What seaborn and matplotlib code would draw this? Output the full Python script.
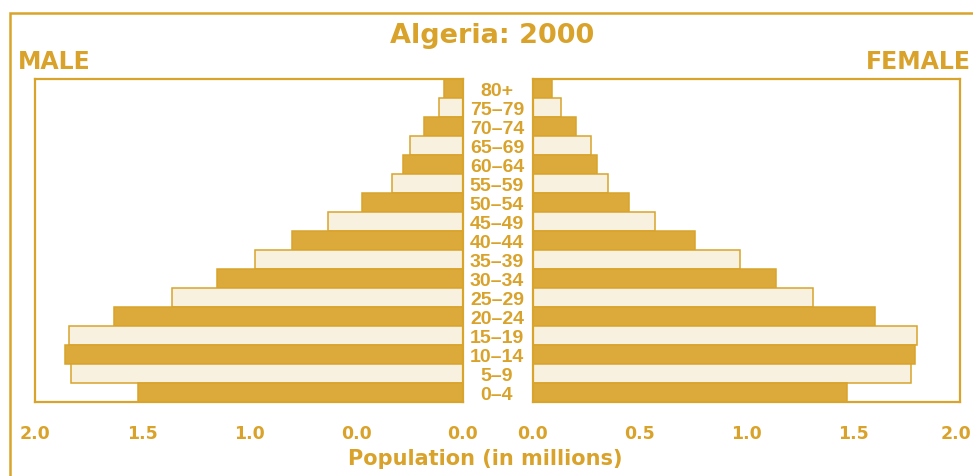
import matplotlib
matplotlib.use("Agg")
import matplotlib.pyplot as plt
from matplotlib.patches import Rectangle
from matplotlib.transforms import ScaledTranslation
import seaborn as sns
import pandas as pd

# ---- data (bottom to top) ----
age_groups = ["0–4", "5–9", "10–14", "15–19", "20–24", "25–29", "30–34", "35–39",
              "40–44", "45–49", "50–54", "55–59", "60–64", "65–69", "70–74", "75–79", "80+"]
male = [1.52, 1.83, 1.86, 1.84, 1.63, 1.36, 1.15, 0.97,
        0.80, 0.63, 0.47, 0.33, 0.28, 0.25, 0.18, 0.11, 0.09]
female = [1.47, 1.77, 1.79, 1.80, 1.60, 1.31, 1.14, 0.97,
          0.76, 0.57, 0.45, 0.35, 0.30, 0.27, 0.20, 0.13, 0.09]
left_ticks = [2.0, 1.5, 1.0, 0.5, 0.0]
left_tick_labels = ["2.0", "1.5", "1.0", "0.0", "0.0"]
right_ticks = [0.0, 0.5, 1.0, 1.5, 2.0]
right_tick_labels = ["0.0", "0.5", "1.0", "1.5", "2.0"]
title = "Algeria: 2000"
xlabel = "Population (in millions)"

GOLD = "#D9A42C"
DARK = "#DBAA3A"
LIGHT = "#F8F1DF"
TEXT = "#D9A22A"

df = pd.DataFrame({"age": age_groups, "male": male, "female": female})
order = age_groups[::-1]  # 80+ at top
palette = {a: (DARK if i % 2 == 0 else LIGHT) for i, a in enumerate(age_groups)}

sns.set_style("white")
plt.rcParams["font.family"] = ["DejaVu Sans"]

W, H = 973, 477
fig = plt.figure(figsize=(W / 100, H / 100), dpi=100)
fig.patch.set_facecolor("white")

def fx(px):
    return px / W

def fy(py):
    return 1 - py / H

top_px, bot_px = 80, 403
axL = fig.add_axes([fx(35), fy(bot_px), fx(463 - 35), (bot_px - top_px) / H])
axR = fig.add_axes([fx(533), fy(bot_px), fx(960 - 533), (bot_px - top_px) / H])

for ax, col in ((axL, "male"), (axR, "female")):
    sns.barplot(data=df, x=col, y="age", hue="age", order=order, hue_order=order,
                palette=palette, legend=False, width=1.0, orient="h",
                edgecolor=GOLD, linewidth=1.1, saturation=1, ax=ax)
    ax.set_xlabel("")
    ax.set_ylabel("")
    ax.set_ylim(len(order) - 0.5, -0.5)
    for s in ax.spines.values():
        s.set_visible(True)
        s.set_color(GOLD)
        s.set_linewidth(1.6)
    ax.tick_params(axis="x", direction="out", length=9, width=1.4, color=GOLD,
                   labelcolor=TEXT, labelsize=12.5, pad=7)
    ax.grid(False)
    ax.set_facecolor("white")

axL.set_xlim(2.0, 0.0)
axL.set_xticks(left_ticks)
axL.set_xticklabels(left_tick_labels, fontweight="bold")
axL.set_yticks([])

axR.set_xlim(0.0, 2.0)
axR.set_xticks(right_ticks)
axR.set_xticklabels(right_tick_labels, fontweight="bold")
# keep the last tick label inside the canvas
last = axR.get_xticklabels()[-1]
last.set_transform(last.get_transform() + ScaledTranslation(-4 / 100, 0, fig.dpi_scale_trans))
axR.set_yticks(range(len(order)))
axR.set_yticklabels(order, fontweight="bold", ha="center",
                    family=["Liberation Sans Narrow", "Liberation Sans", "DejaVu Sans"])
axR.tick_params(axis="y", length=0, pad=26, labelsize=14, labelcolor=TEXT)

# outer frame
fig.add_artist(Rectangle((fx(10), -0.2), 1.5, fy(14) + 0.2, transform=fig.transFigure,
                         fill=False, edgecolor=GOLD, linewidth=1.8, clip_on=False))

fig.text(fx(492), fy(36), title, ha="center", va="center", color=TEXT,
         fontsize=19.5, fontweight="bold")
fig.text(fx(18), fy(62), "MALE", ha="left", va="center", color=TEXT,
         fontsize=17, fontweight="bold")
fig.text(fx(971), fy(62), "FEMALE", ha="right", va="center", color=TEXT,
         fontsize=17, fontweight="bold")
fig.text(fx(485), fy(459), xlabel, ha="center", va="center", color=TEXT,
         fontsize=15, fontweight="bold")

fig.savefig("out.png", dpi=100, facecolor="white")
